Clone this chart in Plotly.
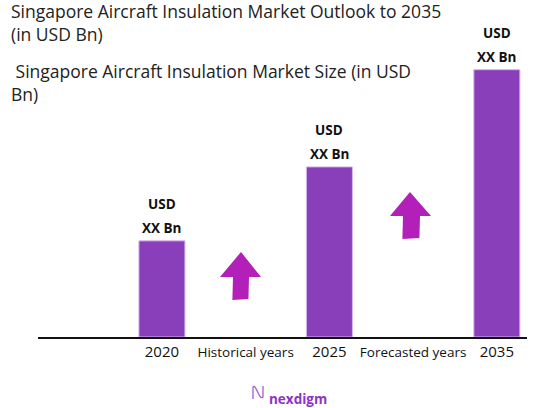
import plotly.graph_objects as go

# categories on the x axis, bars only on the year slots
categories = ["2020", "Historical years", "2025", "Forecasted years", "2035"]
tick_labels = ["2020", "<span style='font-size:13.5px'>Historical years</span>", "2025",
               "<span style='font-size:13.5px'>Forecasted years</span>", "2035"]
market_size = [9.1, None, 16.1, None, 25.3]   # placeholder sizes (shown as "XX")
value_line1 = "USD"
value_line2 = "XX Bn"

W, H = 539, 408
L, R, T, B = 38, 12, 20, 71


def px(x, y):
    """window pixel position -> paper coords"""
    return (x - L) / (W - L - R), (H - B - y) / (H - T - B)


def arrow_path(tip, head_y, head_l, head_r, sh_l, sh_r, bottom):
    pts = [tip, (head_r, head_y), (sh_r, head_y), (sh_r - 0.6, bottom),
           (sh_l - 0.6, bottom + 1), (sh_l, head_y), (head_l, head_y)]
    pp = [px(*p) for p in pts]
    return "M " + " L ".join(f"{a:.4f},{b:.4f}" for a, b in pp) + " Z"


fig = go.Figure()
fig.add_trace(go.Bar(
    x=categories, y=market_size,
    width=0.55,
    marker=dict(color="#8A3FBA", line=dict(color="#D9B8EE", width=1)),
    hoverinfo="skip",
))

# value labels above the bars (x given as category index)
lab_font = dict(family="Open Sans", size=13.5, color="#111111")
for i, val in enumerate(market_size):
    if val is None:
        continue
    fig.add_annotation(x=i, y=val, text=f"<b>{value_line2}</b>", showarrow=False,
                       yanchor="middle", yshift=13, font=lab_font)
    fig.add_annotation(x=i, y=val, text=f"<b>{value_line1}</b>", showarrow=False,
                       yanchor="middle", yshift=37, font=lab_font)

arrow_color = "#B21FB9"
fig.add_shape(type="path", xref="paper", yref="paper",
              path=arrow_path((241, 252), 277, 220, 261, 233, 249, 299),
              fillcolor=arrow_color, line=dict(width=0))
fig.add_shape(type="path", xref="paper", yref="paper",
              path=arrow_path((410, 192), 216, 390, 431, 403, 420, 238),
              fillcolor=arrow_color, line=dict(width=0))

# logo mark
p = [px(253, 399), px(253, 387), px(256, 383), px(259, 401), px(263, 397), px(263, 386)]
fig.add_shape(type="path", xref="paper", yref="paper",
              path=(f"M {p[0][0]:.4f},{p[0][1]:.4f} L {p[1][0]:.4f},{p[1][1]:.4f} "
                    f"C {p[2][0]:.4f},{p[2][1]:.4f} {p[3][0]:.4f},{p[3][1]:.4f} {p[4][0]:.4f},{p[4][1]:.4f} "
                    f"L {p[5][0]:.4f},{p[5][1]:.4f}"),
              line=dict(color="#A45BDB", width=1.3))

title_font = dict(family="Open Sans", size=17.5, color="#222222")
fig.add_annotation(text="Singapore Aircraft Insulation Market Outlook to 2035<br>(in USD Bn)",
                   xref="paper", yref="paper", x=px(9, 0)[0], y=px(0, -3)[1],
                   xanchor="left", yanchor="top", align="left", showarrow=False,
                   font=title_font)
fig.add_annotation(text=" Singapore Aircraft Insulation Market Size (in USD<br>Bn)",
                   xref="paper", yref="paper", x=px(9, 0)[0], y=px(0, 57)[1],
                   xanchor="left", yanchor="top", align="left", showarrow=False,
                   font=title_font)
fig.add_annotation(text="<b>nexdigm</b>", xref="paper", yref="paper",
                   x=px(267, 0)[0], y=px(0, 399)[1], xanchor="left", yanchor="middle",
                   showarrow=False, font=dict(family="Open Sans", size=13.5, color="#8E32C8"))

fig.update_layout(
    width=W, height=H,
    margin=dict(l=L, r=R, t=T, b=B),
    paper_bgcolor="white", plot_bgcolor="white",
    showlegend=False,
    xaxis=dict(type="category", categoryorder="array", categoryarray=categories,
               tickmode="array", tickvals=categories, ticktext=tick_labels,
               range=[-1.48, 4.36], showgrid=False, zeroline=False,
               showline=True, linecolor="#111111", linewidth=2,
               ticks="", tickfont=dict(family="Open Sans", size=15, color="#111111")),
    yaxis=dict(range=[0, 30], visible=False),
)

# drop the default 8px page margin so the figure fills the window
fig.write_html("out.html", config={"displayModeBar": False},
               post_script="document.body.style.margin='0';")
